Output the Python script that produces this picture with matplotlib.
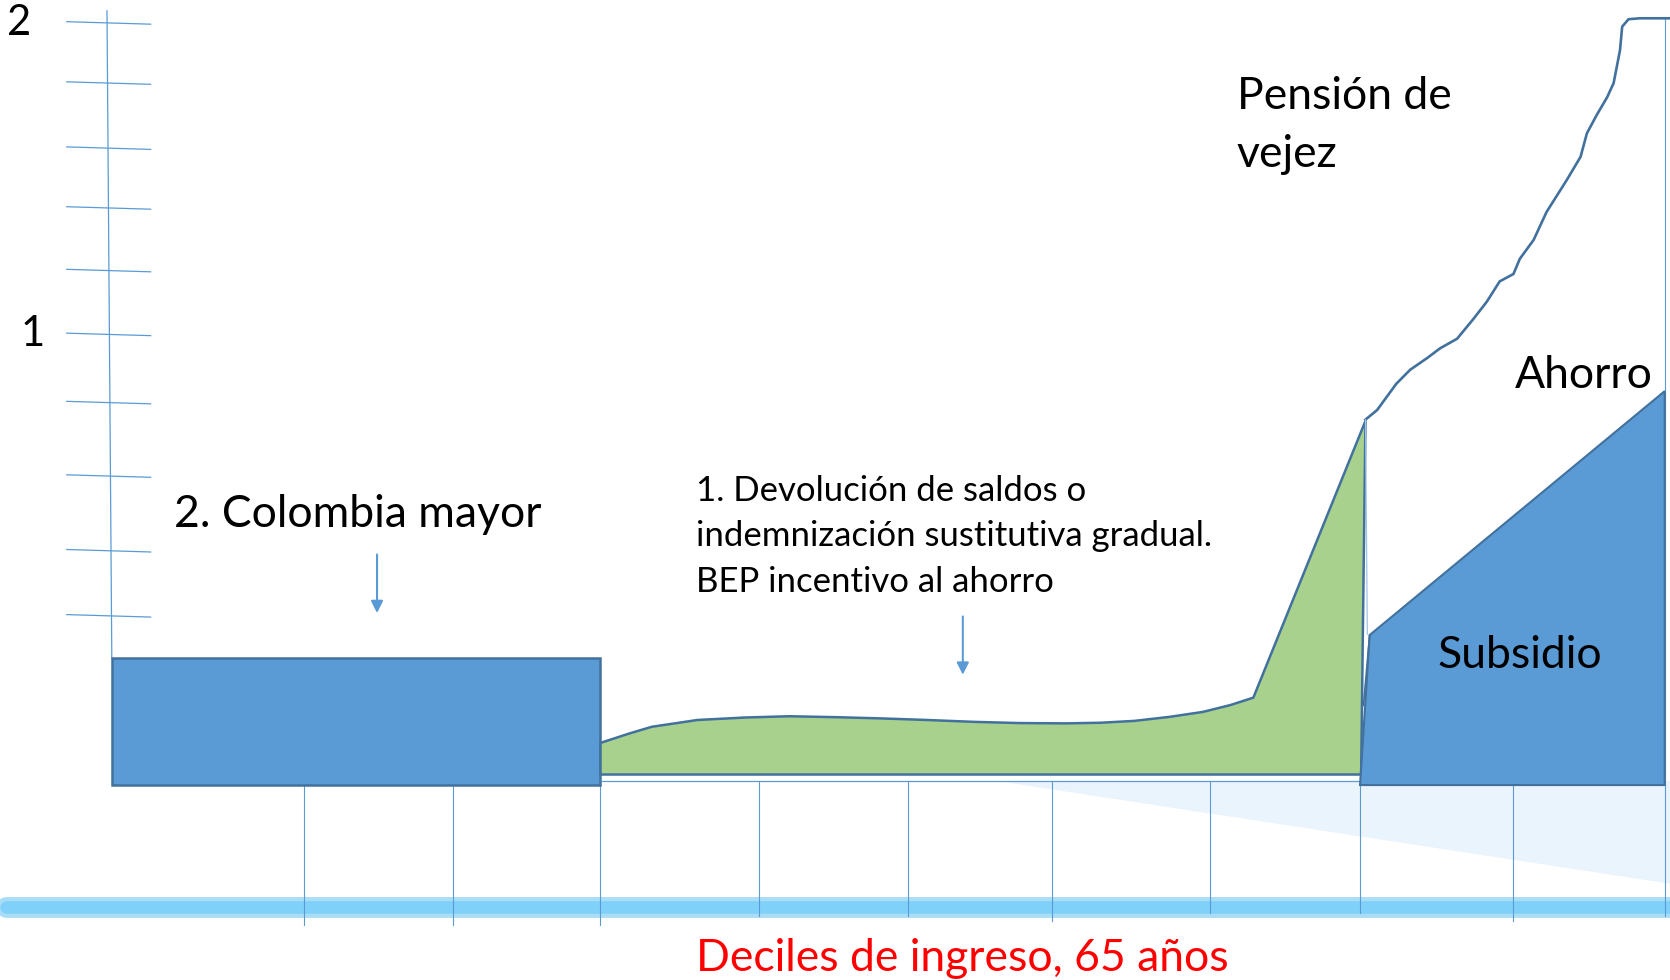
import matplotlib

matplotlib.use("Agg")
import matplotlib.pyplot as plt

plt.rcParams["font.family"] = ["Lato", "DejaVu Sans"]

# schematic units: x = income decile (0-10), y = pension level (labels 1 and 2)
decile_lines_x = [1.24, 2.195, 3.141, 4.17, 5.13, 6.056, 7.071, 8.038, 9.026, 10.0]
decile_lines_top = [-0.457, -0.457, -0.457, -0.443, -0.443, -0.443, -0.443, -0.457, -0.457, 2.017]
decile_lines_bottom = [-0.907, -0.907, -0.907, -0.88, -0.88, -0.897, -0.869, -0.869, -0.897, -0.88]

axis_ticks_y = [2.002, 1.808, 1.598, 1.405, 1.203, 0.997, 0.777, 0.54, 0.299, 0.089]
axis_tick_labels = {2.002: "2", 0.997: "1"}

# 2. Colombia mayor (deciles 0 - 3.14)
colombia_x = [0.0, 3.141]
colombia_bottom = -0.457
colombia_top = -0.048

# 1. Devolucion de saldos / BEP (green)
devolucion_x = [3.147, 3.33, 3.477, 3.772, 4.081, 4.365, 4.664, 4.956, 5.247, 5.547,
                5.844, 6.139, 6.365, 6.584, 6.811, 7.026, 7.202, 7.351, 8.073, 8.045]
devolucion_y = [-0.321, -0.291, -0.269, -0.247, -0.239, -0.235, -0.238, -0.242, -0.247, -0.253,
                -0.257, -0.258, -0.256, -0.25, -0.237, -0.221, -0.199, -0.175, 0.718, -0.423]
devolucion_base = -0.423

# Subsidio / Ahorro (right blue block)
subsidio_x = [8.038, 8.1, 10.0, 10.0]
subsidio_y = [-0.457, 0.027, 0.814, -0.457]

# Pension de vejez curve
pension_x = [8.073, 8.148, 8.272, 8.361, 8.471, 8.553, 8.663, 8.765, 8.855, 8.937,
             9.026, 9.067, 9.156, 9.239, 9.369, 9.458, 9.499, 9.561, 9.63, 9.671,
             9.712, 9.726, 9.767, 9.842, 10.034]
pension_y = [0.722, 0.753, 0.838, 0.883, 0.921, 0.952, 0.983, 1.045, 1.103, 1.168,
             1.192, 1.241, 1.302, 1.392, 1.495, 1.57, 1.646, 1.704, 1.763, 1.808,
             1.914, 1.99, 2.014, 2.017, 2.017]

FILL_BLUE = "#5B9BD5"
EDGE_BLUE = "#41719C"
GREEN = "#A9D18E"


def draw_background(ax):
    # faint swoosh behind the right deciles
    ax.fill([5.7, 10.05, 10.05], [-0.443, -0.443, -0.777], color="#EAF4FC", lw=0, zorder=0)
    # light blue floor bar
    ax.plot([-0.68, 10.05], [-0.85, -0.85], color="#A9DDF5", lw=15,
            solid_capstyle="round", zorder=1)
    ax.plot([-0.68, 10.05], [-0.85, -0.85], color="#7FD1F9", lw=9,
            solid_capstyle="round", zorder=1)


def draw_axis(ax):
    ax.plot([-0.031, 0.0], [2.041, -0.048], color=FILL_BLUE, lw=0.9, zorder=2)
    for tick_y in axis_ticks_y:
        ax.plot([-0.29, 0.25], [tick_y + 0.004, tick_y - 0.004], color=FILL_BLUE, lw=0.9, zorder=2)
    for tick_y, label in axis_tick_labels.items():
        x_label = -0.6 if label == "2" else -0.51
        ax.text(x_label, tick_y, label, fontsize=30, ha="center", va="center")

    for x, top, bottom in zip(decile_lines_x, decile_lines_top, decile_lines_bottom):
        ax.plot([x, x], [top, bottom], color=FILL_BLUE, lw=0.8, zorder=2)


def draw_blocks(ax):
    ax.fill(
        [colombia_x[0], colombia_x[1], colombia_x[1], colombia_x[0]],
        [colombia_bottom, colombia_bottom, colombia_top, colombia_top],
        facecolor=FILL_BLUE, edgecolor=EDGE_BLUE, lw=1.8, zorder=3,
    )

    green_x = [devolucion_x[0]] + devolucion_x
    green_y = [devolucion_base] + devolucion_y
    ax.fill(green_x, green_y, facecolor=GREEN, edgecolor=EDGE_BLUE, lw=1.8,
            joinstyle="round", zorder=3)
    ax.plot([devolucion_x[0], devolucion_x[-1]], [devolucion_base - 0.02, devolucion_base - 0.02],
            color=FILL_BLUE, lw=0.9, zorder=3)

    ax.fill(subsidio_x, subsidio_y, facecolor=FILL_BLUE, edgecolor=EDGE_BLUE, lw=1.5, zorder=3)
    ax.plot([8.06, 8.1], [-0.2, 0.027], color=EDGE_BLUE, lw=1.2, zorder=4)

    ax.plot(pension_x, pension_y, color=EDGE_BLUE, lw=1.9, solid_joinstyle="round", zorder=4)
    ax.plot([8.073, 8.085], [0.722, 0.03], color="#9DC3E6", lw=0.9, zorder=4)


def draw_labels(ax):
    arrow_style = dict(arrowstyle="-|>", color=FILL_BLUE, lw=1.5, mutation_scale=18)
    ax.annotate("", xy=(1.708, 0.089), xytext=(1.708, 0.296), arrowprops=arrow_style)
    ax.annotate("", xy=(5.48, -0.11), xytext=(5.48, 0.096), arrowprops=arrow_style)

    ax.text(0.398, 0.416, "2. Colombia mayor", fontsize=32, va="center")
    devolucion_lines = [
        "1. Devolución de saldos o",
        "indemnización sustitutiva gradual.",
        "BEP incentivo al ahorro",
    ]
    for y, line in zip([0.491, 0.347, 0.199], devolucion_lines):
        ax.text(3.765, y, line, fontsize=25, va="center")

    ax.text(7.243, 1.766, "Pensión de", fontsize=32, va="center")
    ax.text(7.243, 1.577, "vejez", fontsize=32, va="center")
    ax.text(9.033, 0.863, "Ahorro", fontsize=32, va="center")
    ax.text(8.539, -0.038, "Subsidio", fontsize=32, va="center")
    ax.text(3.765, -1.017, "Deciles de ingreso, 65 años", fontsize=32, va="center", color="#FF0000")


fig = plt.figure(figsize=(16.7, 9.8), dpi=100)
ax = fig.add_axes([0, 0, 1, 1])
ax.set_xlim(-0.72, 10.034)
ax.set_ylim(-1.086, 2.076)
ax.axis("off")

draw_background(ax)
draw_axis(ax)
draw_blocks(ax)
draw_labels(ax)

fig.savefig("out.png", dpi=100)
